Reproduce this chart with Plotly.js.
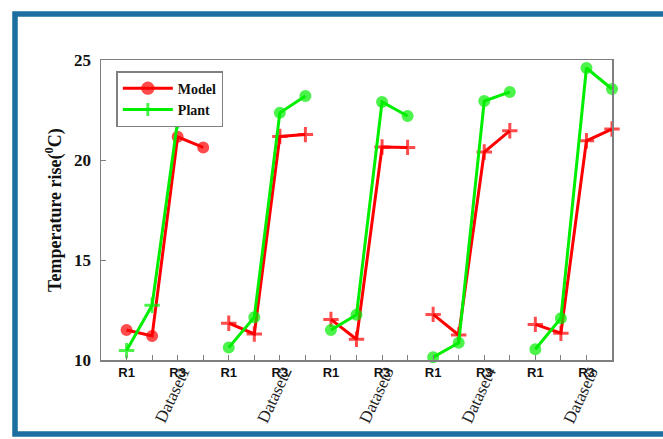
<!DOCTYPE html>
<html>
<head>
<meta charset="utf-8">
<script src="https://cdn.plot.ly/plotly-3.0.1.min.js"></script>
<style>
  html, body { margin: 0; padding: 0; background: #ffffff; }
  #chart { width: 663px; height: 439px; }
</style>
</head>
<body>
<div id="chart"></div>
<script>
// Temperature rise per run, model vs plant, for five datasets
const datasetNames = ['Dataset1', 'Dataset2', 'Dataset3', 'Dataset4', 'Dataset5'];
const runLabels = ['R1', '', 'R3', ''];

const modelRise1 = [11.50, 11.20, 21.16, 20.63];
const modelRise2 = [11.84, 11.30, 21.18, 21.27];
const modelRise3 = [12.03, 11.04, 20.65, 20.63];
const modelRise4 = [12.28, 11.25, 20.40, 21.46];
const modelRise5 = [11.78, 11.34, 20.96, 21.55];

const plantRise1 = [10.47, 12.74, 21.96, 22.20];
const plantRise2 = [10.62, 12.14, 22.36, 23.20];
const plantRise3 = [11.50, 12.26, 22.90, 22.20];
const plantRise4 = [10.14, 10.86, 22.95, 23.40];
const plantRise5 = [10.54, 12.09, 24.60, 23.55];

const modelSeries = [modelRise1, modelRise2, modelRise3, modelRise4, modelRise5];
const plantSeries = [plantRise1, plantRise2, plantRise3, plantRise4, plantRise5];

const RED = '#ff0000';
const GREEN = '#00ee00';
const FRAME = '#1a6fa0';
const AXIS = '#7f7f7f';
const SERIF = 'Liberation Serif, Times New Roman, serif';

const runsPer = runLabels.length;

// Flatten one series, leaving a gap between datasets so lines break
function buildSeries(series, symbolFor) {
  const x = [], y = [], sym = [], size = [];
  series.forEach((vals, d) => {
    const s = symbolFor(d);
    vals.forEach((v, r) => {
      x.push(d * runsPer + r);
      y.push(v);
      sym.push(s);
      size.push(s === 'circle' ? 9 : 11);
    });
    x.push(null); y.push(null); sym.push('circle'); size.push(9);
  });
  return { x, y, sym, size };
}

// First dataset uses circles for the model and crosses for the plant; the rest swap
const model = buildSeries(modelSeries, d => (d === 0 ? 'circle' : 'cross-thin'));
const plant = buildSeries(plantSeries, d => (d === 0 ? 'cross-thin' : 'circle'));

const traces = [
  {
    name: 'Model', type: 'scatter', mode: 'lines+markers',
    x: model.x, y: model.y, connectgaps: false, cliponaxis: false,
    line: { color: RED, width: 3 },
    marker: { symbol: model.sym, size: model.size, color: RED, line: { color: RED, width: 3 } }
  },
  {
    name: 'Plant', type: 'scatter', mode: 'lines+markers',
    x: plant.x, y: plant.y, connectgaps: false, cliponaxis: false,
    line: { color: GREEN, width: 3 },
    marker: { symbol: plant.sym, size: plant.size, color: GREEN, line: { color: GREEN, width: 3 } }
  }
];

const tickvals = [], ticktext = [];
datasetNames.forEach((_, d) => {
  runLabels.forEach((lab, r) => { tickvals.push(d * runsPer + r); ticktext.push(lab); });
});

const annotations = datasetNames.map((name, d) => ({
  text: name, xref: 'x', yref: 'paper',
  x: d * runsPer + 2 - 0.22, y: -0.118,
  xanchor: 'center', yanchor: 'middle',
  showarrow: false, textangle: -65,
  font: { family: SERIF, size: 17, color: '#222222' }
}));

// Blue frame around the figure (its right side runs past the page edge)
const shapes = [{
  type: 'rect', xref: 'paper', yref: 'paper',
  x0: -0.1683, x1: 1.30, y0: -0.2467, y1: 1.1533,
  line: { color: FRAME, width: 5.5 }, fillcolor: 'rgba(0,0,0,0)', layer: 'above'
}];

const layout = {
  width: 663, height: 439,
  margin: { l: 101, r: 51, t: 60, b: 79 },
  paper_bgcolor: '#ffffff', plot_bgcolor: '#ffffff',
  showlegend: true,
  legend: {
    x: 0.03, y: 0.963, xanchor: 'left', yanchor: 'top',
    bgcolor: '#ffffff', bordercolor: '#808080', borderwidth: 1.5,
    font: { family: SERIF, size: 14, color: '#111111', weight: 'bold' },
    tracegroupgap: 0, itemwidth: 50
  },
  xaxis: {
    range: [-1, 19], tickmode: 'array', tickvals: tickvals, ticktext: ticktext,
    ticks: 'inside', ticklen: 5, tickcolor: AXIS, tickwidth: 1,
    showgrid: false, zeroline: false,
    showline: true, linecolor: AXIS, linewidth: 1.5, mirror: true,
    tickfont: { family: 'Liberation Sans, Arial, sans-serif', size: 13, color: '#111111', weight: 'bold' }
  },
  yaxis: {
    range: [10, 25], tickvals: [10, 15, 20, 25],
    ticks: 'inside', ticklen: 5, tickcolor: AXIS, tickwidth: 1,
    ticklabelstandoff: 5,
    showgrid: false, zeroline: false,
    showline: true, linecolor: AXIS, linewidth: 1.5, mirror: true,
    tickfont: { family: SERIF, size: 17, color: '#111111', weight: 'bold' },
    title: {
      text: 'Temperature rise(<sup>0</sup>C)', standoff: 8,
      font: { family: SERIF, size: 18, color: '#111111', weight: 'bold' }
    }
  },
  annotations: annotations,
  shapes: shapes
};

Plotly.newPlot('chart', traces, layout, { displayModeBar: false, staticPlot: true });
</script>
</body>
</html>
